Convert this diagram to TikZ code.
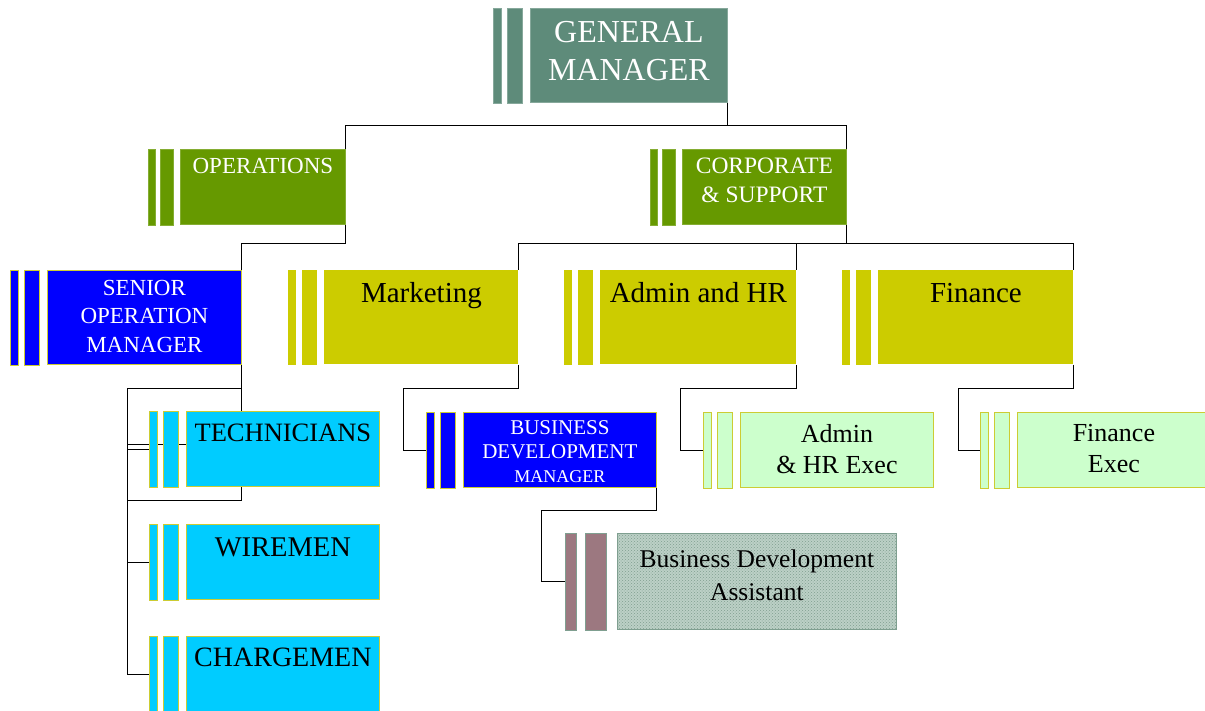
\documentclass[tikz,border=0pt]{standalone}
\usepackage{fontspec}
\setmainfont{Liberation Serif}
\usetikzlibrary{positioning,calc,backgrounds,patterns}

\definecolor{gmgreen}{HTML}{5E8B7A}
\definecolor{opsgreen}{HTML}{669900}
\definecolor{olivebox}{HTML}{CCCC00}
\definecolor{cyanbox}{HTML}{00CCFF}
\definecolor{mintbox}{HTML}{CCFFCC}
\definecolor{edgeyellow}{HTML}{CCCC33}
\definecolor{mauve}{HTML}{9C7880}
\definecolor{sagebox}{HTML}{BCD0C6}
\definecolor{sagedot}{HTML}{7F9F90}

\tikzset{
  box/.style={rectangle, anchor=north west, inner sep=0pt, line width=0.8pt},
  bar/.style={box, anchor=north east},
  link/.style={line width=1pt, black},
  caption/.style={align=center, inner sep=0pt},
  gmfill/.style={fill=gmgreen, draw=gmgreen!75!white},
  opsfill/.style={fill=opsgreen, draw=opsgreen!80!white},
  bluefill/.style={fill=blue, draw=edgeyellow},
  olivefill/.style={fill=olivebox},
  cyanfill/.style={fill=cyanbox, draw=edgeyellow},
  mintfill/.style={fill=mintbox, draw=edgeyellow},
  mauvefill/.style={fill=mauve, draw=sagedot},
  sagefill/.style={fill=sagebox, draw=sagedot, postaction={pattern=crosshatch dots, pattern color=sagedot}},
}

\newcommand{\sidebars}[3][1]{%
  \path let \p1=(#2.north west), \p2=(#2.south west), \n1={\y1-\y2} in
    node[bar, #3, minimum width=15*#1, minimum height=\n1] (#2-b) at ($(\p1)+(-7*#1,0)$) {}
    node[bar, #3, minimum width=8*#1, minimum height=\n1] (#2-a) at ($(\p1)+(-28*#1,0)$) {};
}

\begin{document}
\begin{tikzpicture}[x=1pt, y=-1pt]
    \useasboundingbox (0,0) rectangle (1205,711);

    \node[box, gmfill, minimum width=197, minimum height=94] (gm) at (530,8) {};
    \sidebars{gm}{gmfill}
    \node[caption, text=white, font=\fontsize{32}{38}\selectfont] (gm-t) at ($(gm.north)+(0,43)$) {GENERAL\\MANAGER};

    \node[box, opsfill, minimum width=165, minimum height=75] (ops) at (180,149) {};
    \sidebars[0.87]{ops}{opsfill}
    \node[caption, text=white, font=\fontsize{23}{29}\selectfont] (ops-t) at ($(ops.north)+(0,16.5)$) {OPERATIONS};

    \node[box, opsfill, minimum width=164, minimum height=75] (corp) at (682,149) {};
    \sidebars[0.87]{corp}{opsfill}
    \node[caption, text=white, font=\fontsize{23.5}{29}\selectfont] (corp-t) at ($(corp.north)+(0,31.5)$) {CORPORATE\\\& SUPPORT};

    \node[box, bluefill, minimum width=194, minimum height=94] (senior) at (47,270) {};
    \sidebars{senior}{bluefill}
    \node[caption, text=white, font=\fontsize{23}{28.5}\selectfont] (senior-t) at ($(senior.north)+(0,46)$) {SENIOR\\OPERATION\\MANAGER};

    \node[box, olivefill, minimum width=194, minimum height=94] (mkt) at (324,270) {};
    \sidebars{mkt}{olivefill}
    \node[caption, font=\fontsize{29}{34}\selectfont] (mkt-t) at ($(mkt.north)+(0,26)$) {Marketing};

    \node[box, olivefill, minimum width=196, minimum height=94] (adhr) at (600,270) {};
    \sidebars{adhr}{olivefill}
    \node[caption, font=\fontsize{29}{34}\selectfont] (adhr-t) at ($(adhr.north)+(0,23)$) {Admin and HR};

    \node[box, olivefill, minimum width=195, minimum height=94] (fin) at (878,270) {};
    \sidebars{fin}{olivefill}
    \node[caption, font=\fontsize{29}{34}\selectfont] (fin-t) at ($(fin.north)+(0,23)$) {Finance};

    \node[box, cyanfill, minimum width=193, minimum height=75] (tech) at (186,411) {};
    \sidebars{tech}{cyanfill}
    \node[caption, font=\fontsize{26.5}{31}\selectfont] (tech-t) at ($(tech.north)+(0,21.5)$) {TECHNICIANS};

    \node[box, cyanfill, minimum width=193, minimum height=75] (wire) at (186,524) {};
    \sidebars{wire}{cyanfill}
    \node[caption, font=\fontsize{28.5}{33}\selectfont] (wire-t) at ($(wire.north)+(0,23)$) {WIREMEN};

    \node[box, cyanfill, minimum width=193, minimum height=75] (charge) at (186,636) {};
    \sidebars{charge}{cyanfill}
    \node[caption, font=\fontsize{28}{33}\selectfont] (charge-t) at ($(charge.north)+(0,21.5)$) {CHARGEMEN};

    \node[box, bluefill, minimum width=193, minimum height=75] (bdm) at (463,412) {};
    \sidebars{bdm}{bluefill}
    \node[caption, text=white, font=\fontsize{21}{24}\selectfont] (bdm-t) at ($(bdm.north)+(0,40)$) {BUSINESS\\DEVELOPMENT\\{\fontsize{18}{22}\selectfont MANAGER}};

    \node[box, mintfill, minimum width=193, minimum height=75] (adex) at (740,412) {};
    \sidebars{adex}{mintfill}
    \node[caption, font=\fontsize{26}{31}\selectfont] (adex-t) at ($(adex.north)+(0,37)$) {Admin\\\& HR Exec};

    \node[box, mintfill, minimum width=193, minimum height=75] (finex) at (1017,412) {};
    \sidebars{finex}{mintfill}
    \node[caption, font=\fontsize{26}{31}\selectfont] (finex-t) at ($(finex.north)+(0,37)$) {Finance\\Exec};

    \node[box, sagefill, minimum width=279, minimum height=96] (bda) at (617,533) {};
    \sidebars[1.42]{bda}{mauvefill}
    \node[caption, font=\fontsize{25.5}{33}\selectfont] (bda-t) at ($(bda.north)+(0,42.5)$) {Business Development\\Assistant};

    \begin{scope}[on background layer]
        \coordinate (j0) at ($(gm.south east)+(0,23)$);
        \draw[link] (gm.south east) -- (j0) -| (ops.north east);
        \draw[link] (j0) -| (corp.north east);
        \draw[link] (ops.south east) -- ++(0,19) -| (senior.north east);
        \coordinate (j1) at ($(corp.south east)+(0,19)$);
        \draw[link] (corp.south east) -- (j1) -| (mkt.north east);
        \draw[link] (j1) -| (adhr.north east);
        \draw[link] (j1) -| (fin.north east);

        \coordinate (s-top) at (127,388);
        \draw[link] (senior.south east) |- (s-top) |- (charge-a.west);
        \draw[link] (senior.south east) -- ++(0,136) -| (s-top);
        \draw[link] (s-top |- wire-a.west) -- (wire-a.west);
        \draw[link] (s-top |- tech-a.west) -- (tech-a.west);
        \draw[link] ($(s-top |- tech.west)+(0,-4.5)$) -- ($(tech.west)+(0,-4.5)$);

        \draw[link] (mkt.south east) |- ++(-115,24) |- (bdm-a.west);
        \draw[link] (adhr.south east) |- ++(-116,24) |- (adex-a.west);
        \draw[link] (fin.south east) |- ++(-115,24) |- (finex-a.west);
        \draw[link] (bdm.south east) |- ++(-115,23) |- (bda-a.west);
    \end{scope}
\end{tikzpicture}
\end{document}
